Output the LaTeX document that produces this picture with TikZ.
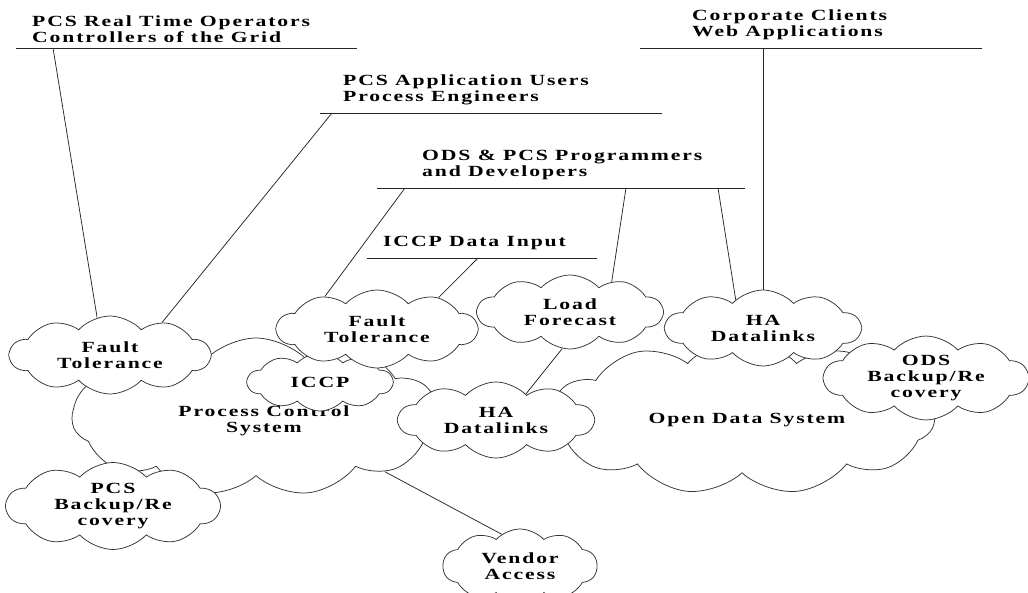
\documentclass[tikz,border=0pt]{standalone}
\usepackage{fontspec}
\setmainfont{Liberation Serif}[FakeStretch=1.4,LetterSpace=12]
\usetikzlibrary{shapes.symbols}
\pgfdeclarelayer{wires}
\pgfsetlayers{wires,main}
\newcommand\dgmfont{\bfseries\fontsize{15.5}{16}\selectfont}
\tikzset{
  lbl/.style={anchor=base west, align=left, inner sep=0pt, font=\dgmfont},
  cloudy/.style={cloud, cloud puffs=10, cloud puff arc=95, cloud ignores aspect,
    draw=black!80, line width=0.75pt, fill=white, inner sep=0pt,
    align=center, font=\dgmfont},
  bigcloud/.style={cloudy, cloud puffs=11},
  wire/.style={draw=black!85, line width=0.75pt},
}
\begin{document}
\begin{tikzpicture}[x=1pt,y=-1pt]
\useasboundingbox (0,0) rectangle (1028,593);
\clip (0,0) rectangle (1028,593);

% user groups (anchored at the baseline of their last line)
\node[lbl] (tOps)   at (32,43)   {PCS Real Time Operators\\Controllers of the Grid};
\node[lbl] (tUsers) at (343,102) {PCS Application Users\\Process Engineers};
\node[lbl] (tDev)   at (422,177) {ODS \& PCS Programmers\\and Developers};
\node[lbl] (tIccp)  at (383,247) {ICCP Data Input};
\node[lbl] (tCorp)  at (692,37)  {Corporate Clients\\Web Applications};

% rules under the group names
\coordinate (uOpsL) at (16,48);   \coordinate (uOpsR) at (357,48);
\coordinate (uUsrL) at (320,113); \coordinate (uUsrR) at (662,113);
\coordinate (uDevL) at (377,188); \coordinate (uDevR) at (745,188);
\coordinate (uIcL)  at (367,258); \coordinate (uIcR)  at (597,258);
\coordinate (uCoL)  at (640,48);  \coordinate (uCoR)  at (982,48);
\foreach \a/\b in {uOpsL/uOpsR,uUsrL/uUsrR,uDevL/uDevR,uIcL/uIcR,uCoL/uCoR}
  \draw[wire] (\a) -- (\b);

% where the connectors leave the rules
\coordinate (cOps)  at (53,48);
\coordinate (cUsr)  at (332,113);
\coordinate (cDevA) at (405,188);
\coordinate (cDevB) at (626,188);
\coordinate (cDevC) at (718,188);
\coordinate (cIc)   at (478,258);
\coordinate (cCo)   at (763,48);

% the two systems
\node[bigcloud, minimum width=368, minimum height=158] (pcs) at (256,417) {};
\node[bigcloud, minimum width=385, minimum height=155] (ods) at (742,417) {};
\node[align=center, font=\dgmfont] (pcsText) at (264,421) {Process Control\\System};
\node[font=\dgmfont] (odsText) at (747,420) {Open Data System};

% components
\node[cloudy, minimum width=213, minimum height=87] (pcsb) at (113,506) {PCS\\Backup/Re\\covery};
\node[cloudy, minimum width=200, minimum height=78] (ft1)  at (110,355) {Fault\\Tolerance};
\node[cloudy, minimum width=145, minimum height=58] (iccp) at (320,382) {ICCP};
\node[cloudy, minimum width=200, minimum height=78] (ft2)  at (377,329) {Fault\\Tolerance};
\node[cloudy, minimum width=185, minimum height=74] (lf)   at (570,312) {Load\\Forecast};
\node[cloudy, minimum width=195, minimum height=76] (ha1)  at (496,420) {HA\\Datalinks};
\node[cloudy, minimum width=195, minimum height=76] (ha2)  at (763,328) {HA\\Datalinks};
\node[cloudy, minimum width=204, minimum height=80] (odsb) at (926,378) {ODS\\Backup/Re\\covery};
\node[cloudy, minimum width=154, minimum height=74] (va)   at (520,566) {Vendor\\Access};

% connectors, kept underneath the clouds
\begin{pgfonlayer}{wires}
\draw[wire] (cOps)  -- (ft1.109);
\draw[wire] (cUsr)  -- (ft1.32);
\draw[wire] (cDevA) -- (ft2.148);
\draw[wire] (cIc)   -- (ft2.27);
\draw[wire] (cDevB) -- (lf.36);
\draw[wire] (cDevC) -- (ha2.134);
\draw[wire] (cCo)   -- (ha2.90);
\draw[wire] (lf.-102) -- (ha1.41);
\draw[wire] (pcs.-23) -- (va.120);
\end{pgfonlayer}
\end{tikzpicture}
\end{document}
